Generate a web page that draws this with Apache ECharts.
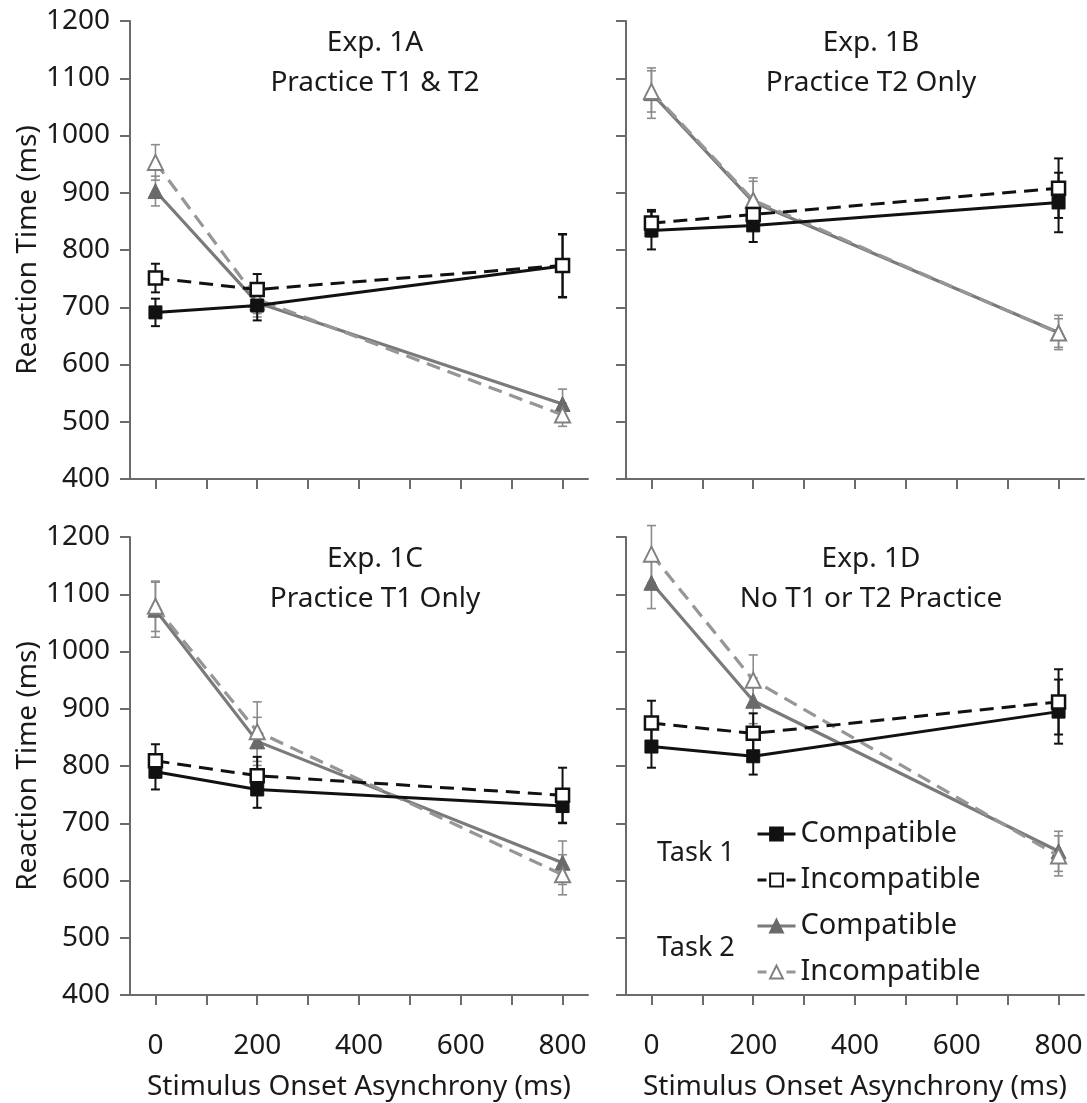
<!DOCTYPE html>
<html>
<head>
<meta charset="utf-8">
<script src="https://cdn.jsdelivr.net/npm/echarts@6/dist/echarts.min.js"></script>
<style>
html,body{margin:0;padding:0;background:#fff;}
#chart{width:1087px;height:1103px;}
</style>
</head>
<body>
<div id="chart"></div>
<script>
// ---------------- data ----------------
const soaValues = [0, 200, 800];
const xTickValues = [0, 100, 200, 300, 400, 500, 600, 700, 800];
const xLabelValues = [0, 200, 400, 600, 800];
const panelTitles = ['Exp. 1A\nPractice T1 & T2', 'Exp. 1B\nPractice T2 Only', 'Exp. 1C\nPractice T1 Only', 'Exp. 1D\nNo T1 or T2 Practice'];
const seriesNames = ['T1 Compatible', 'T1 Incompatible', 'T2 Compatible', 'T2 Incompatible'];
const legendLabels = ['Compatible', 'Incompatible', 'Compatible', 'Incompatible'];
const taskLabels = ['Task 1', 'Task 2'];
const xAxisTitle = 'Stimulus Onset Asynchrony (ms)';
const yAxisTitle = 'Reaction Time (ms)';

// Exp. 1A
const expA_t1Comp = [691, 703, 772];
const expA_t1CompErr = [24, 26, 55];
const expA_t1Incomp = [751, 731, 773];
const expA_t1IncompErr = [25, 27, 55];
const expA_t2Comp = [903, 708, 531];
const expA_t2CompErr = [26, 25, 26];
const expA_t2Incomp = [953, 714, 512];
const expA_t2IncompErr = [31, 25, 20];
// Exp. 1B
const expB_t1Comp = [834, 843, 883];
const expB_t1CompErr = [33, 29, 52];
const expB_t1Incomp = [847, 862, 908];
const expB_t1IncompErr = [23, 25, 52];
const expB_t2Comp = [1074, 884, 656];
const expB_t2CompErr = [44, 42, 30];
const expB_t2Incomp = [1077, 887, 655];
const expB_t2IncompErr = [36, 33, 25];
// Exp. 1C
const expC_t1Comp = [790, 759, 730];
const expC_t1CompErr = [31, 32, 30];
const expC_t1Incomp = [809, 783, 749];
const expC_t1IncompErr = [29, 33, 48];
const expC_t2Comp = [1073, 843, 631];
const expC_t2CompErr = [48, 42, 38];
const expC_t2Incomp = [1079, 860, 610];
const expC_t2IncompErr = [44, 52, 35];
// Exp. 1D
const expD_t1Comp = [834, 817, 895];
const expD_t1CompErr = [37, 32, 56];
const expD_t1Incomp = [875, 857, 912];
const expD_t1IncompErr = [39, 35, 57];
const expD_t2Comp = [1120, 914, 651];
const expD_t2CompErr = [45, 40, 35];
const expD_t2Incomp = [1170, 950, 643];
const expD_t2IncompErr = [50, 44, 35];

const panels = [
  [[expA_t1Comp, expA_t1CompErr], [expA_t1Incomp, expA_t1IncompErr], [expA_t2Comp, expA_t2CompErr], [expA_t2Incomp, expA_t2IncompErr]],
  [[expB_t1Comp, expB_t1CompErr], [expB_t1Incomp, expB_t1IncompErr], [expB_t2Comp, expB_t2CompErr], [expB_t2Incomp, expB_t2IncompErr]],
  [[expC_t1Comp, expC_t1CompErr], [expC_t1Incomp, expC_t1IncompErr], [expC_t2Comp, expC_t2CompErr], [expC_t2Incomp, expC_t2IncompErr]],
  [[expD_t1Comp, expD_t1CompErr], [expD_t1Incomp, expD_t1IncompErr], [expD_t2Comp, expD_t2CompErr], [expD_t2Incomp, expD_t2IncompErr]]
];

// ---------------- styles ----------------
const FONT = 'Noto Sans';
const AXIS_COLOR = '#6b6b6b';
const TEXT_COLOR = '#1a1a1a';
const BLACK = '#111111';
const GRAY_SOLID = '#7a7a7a';
const GRAY_DASH = '#969696';
const GRAY_FILL = '#6a6a6a';
const GRAY_ERR = '#8c8c8c';

const styles = [
  {line: {color: BLACK, width: 3, type: 'solid'}, symbol: 'rect', size: 13, item: {color: BLACK, borderColor: BLACK, borderWidth: 1}, err: BLACK, errW: 2, z: 6, legendDash: 'solid'},
  {line: {color: BLACK, width: 3, type: [14, 8]}, symbol: 'rect', size: 13, item: {color: '#ffffff', borderColor: BLACK, borderWidth: 2.5}, err: BLACK, errW: 2, z: 7, legendDash: [9, 20]},
  {line: {color: GRAY_SOLID, width: 3.2, type: 'solid'}, symbol: 'triangle', size: 15, item: {color: GRAY_FILL, borderColor: GRAY_FILL, borderWidth: 1}, err: GRAY_ERR, errW: 1.6, z: 4, legendDash: 'solid'},
  {line: {color: GRAY_DASH, width: 3.2, type: [14, 8]}, symbol: 'triangle', size: 15, item: {color: '#ffffff', borderColor: '#808080', borderWidth: 2}, err: GRAY_ERR, errW: 1.6, z: 5, legendDash: [9, 20]}
];

const gridBoxes = [
  {left: 130, top: 21, width: 458, height: 458},
  {left: 626, top: 21, width: 458, height: 458},
  {left: 130, top: 537, width: 458, height: 458},
  {left: 626, top: 537, width: 458, height: 458}
];

const grids = gridBoxes.map(b => Object.assign({containLabel: false}, b));

const xAxes = gridBoxes.map((b, i) => {
  const bottomRow = i >= 2;
  return {
    type: 'value', gridIndex: i, min: -50, max: 850,
    axisLine: {onZero: false, lineStyle: {color: AXIS_COLOR, width: 2}},
    axisTick: {show: true, customValues: xTickValues, length: 10, inside: false, lineStyle: {color: AXIS_COLOR, width: 2}},
    axisLabel: {show: bottomRow, customValues: xLabelValues, margin: 37, fontSize: 28, fontFamily: FONT, color: TEXT_COLOR},
    splitLine: {show: false},
    name: bottomRow ? xAxisTitle : '',
    nameLocation: 'middle', nameGap: 78,
    nameTextStyle: {fontSize: 28, fontFamily: FONT, color: TEXT_COLOR}
  };
});

const yAxes = gridBoxes.map((b, i) => {
  const leftCol = i % 2 === 0;
  return {
    type: 'value', gridIndex: i, min: 400, max: 1200, interval: 100,
    axisLine: {show: true, onZero: false, lineStyle: {color: AXIS_COLOR, width: 2}},
    axisTick: {show: true, length: 10, inside: false, lineStyle: {color: AXIS_COLOR, width: 2}},
    axisLabel: {show: leftCol, margin: 20, fontSize: 28, fontFamily: FONT, color: TEXT_COLOR, formatter: v => String(v)},
    splitLine: {show: false},
    name: leftCol ? yAxisTitle : '',
    nameLocation: 'middle', nameGap: 87, nameRotate: 90,
    nameTextStyle: {fontSize: 28, fontFamily: FONT, color: TEXT_COLOR}
  };
});

const titles = gridBoxes.map((b, i) => ({
  text: panelTitles[i],
  left: b.left + 240, top: b.top - 3, textAlign: 'center',
  textStyle: {fontSize: 28, fontWeight: 'normal', fontFamily: FONT, color: TEXT_COLOR, lineHeight: 40}
}));

const series = [];
panels.forEach((panel, p) => {
  panel.forEach((cond, c) => {
    const st = styles[c];
    const data = soaValues.map((x, k) => [x, cond[0][k], cond[1][k]]);
    series.push({
      type: 'custom', xAxisIndex: p, yAxisIndex: p, z: st.z - 2, silent: true,
      data: data,
      renderItem: function (params, api) {
        const x = api.value(0), y = api.value(1), e = api.value(2);
        const t = api.coord([x, y + e]);
        const bt = api.coord([x, y - e]);
        const hw = 4.5;
        const s = {stroke: st.err, lineWidth: st.errW};
        return {type: 'group', children: [
          {type: 'line', shape: {x1: t[0], y1: t[1], x2: bt[0], y2: bt[1]}, style: s},
          {type: 'line', shape: {x1: t[0] - hw, y1: t[1], x2: t[0] + hw, y2: t[1]}, style: s},
          {type: 'line', shape: {x1: bt[0] - hw, y1: bt[1], x2: bt[0] + hw, y2: bt[1]}, style: s}
        ]};
      }
    });
  });
  panel.forEach((cond, c) => {
    const st = styles[c];
    series.push({
      type: 'line', name: seriesNames[c], xAxisIndex: p, yAxisIndex: p, z: st.z,
      data: soaValues.map((x, k) => [x, cond[0][k]]),
      symbol: st.symbol, symbolSize: st.size, showSymbol: true,
      lineStyle: st.line, itemStyle: st.item,
      emphasis: {disabled: true}, silent: true
    });
  });
});

const chart = echarts.init(document.getElementById('chart'), null, {renderer: 'canvas'});
chart.setOption({
  animation: false,
  backgroundColor: '#ffffff',
  title: titles,
  grid: grids,
  xAxis: xAxes,
  yAxis: yAxes,
  legend: {
    data: seriesNames.map((n, i) => ({name: n, lineStyle: {type: styles[i].legendDash, width: 3}})),
    orient: 'vertical', left: 756, top: 819, padding: 0,
    itemWidth: 38, itemHeight: 16, itemGap: 16, selectedMode: false,
    formatter: name => legendLabels[seriesNames.indexOf(name)],
    textStyle: {fontSize: 29, lineHeight: 30, fontFamily: FONT, color: TEXT_COLOR, padding: [0, 0, 0, 0]}
  },
  graphic: [
    {type: 'text', left: 657, top: 840, style: {text: taskLabels[0], font: '27px "Noto Sans"', fill: TEXT_COLOR}},
    {type: 'text', left: 657, top: 935, style: {text: taskLabels[1], font: '27px "Noto Sans"', fill: TEXT_COLOR}}
  ],
  series: series
});
</script>
</body>
</html>
